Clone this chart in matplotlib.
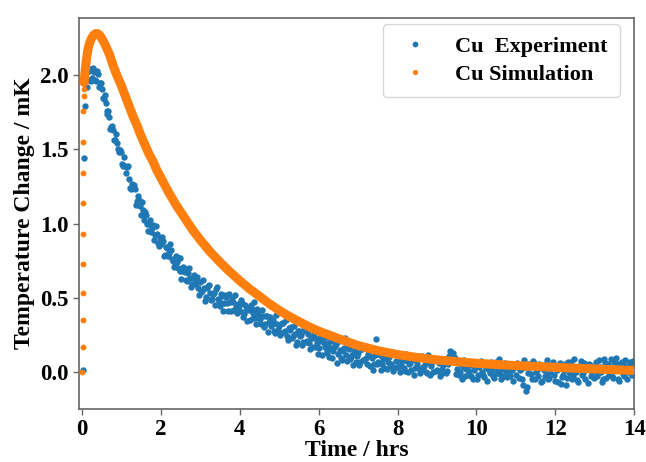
import numpy as np
import matplotlib
matplotlib.use("Agg")
import matplotlib.pyplot as plt

plt.rcParams['font.family'] = ['Liberation Serif', 'DejaVu Serif']
plt.rcParams['font.weight'] = 'bold'

# ---------------- data ----------------
# Experiment: first few samples during the rise
exp_t_early = [0.03, 0.06, 0.09, 0.12]
exp_v_early = [0.01, 1.44, 1.79, 1.92]

# Experiment: samples at t = 0.15, 0.20, ... 14.00 hrs
exp_a_t0, exp_dt = 0.15, 0.05
exp_a_v = [
    # 0.15 - 0.95
    1.97, 2.04, 1.98, 2.02, 1.96, 2.01, 1.95, 1.91, 1.84, 1.81, 1.74, 1.72, 1.65, 1.63, 1.56, 1.54, 1.48,
    # 1.00 - 1.95
    1.48, 1.39, 1.39, 1.38, 1.30, 1.23, 1.24, 1.23, 1.15, 1.16, 1.06, 1.09, 1.08, 1.00, 1.00, 0.94, 0.99, 0.92, 0.93, 0.85,
    # 2.00 - 2.95
    0.86, 0.88, 0.79, 0.835, 0.80, 0.82, 0.745, 0.72, 0.74, 0.765, 0.68, 0.68, 0.70, 0.62, 0.665, 0.63, 0.59, 0.65, 0.605, 0.565,
    # 3.00 - 3.95
    0.605, 0.545, 0.565, 0.505, 0.58, 0.53, 0.49, 0.535, 0.56, 0.49, 0.445, 0.51, 0.465, 0.505, 0.41, 0.47, 0.495, 0.42, 0.44, 0.455,
    # 4.00 - 4.95
    0.41, 0.465, 0.39, 0.415, 0.43, 0.35, 0.425, 0.40, 0.365, 0.425, 0.36, 0.32, 0.375, 0.32, 0.38, 0.335, 0.31, 0.35, 0.265, 0.32,
    # 5.00 - 5.95
    0.31, 0.265, 0.33, 0.275, 0.24, 0.295, 0.30, 0.243, 0.257, 0.20, 0.273, 0.247, 0.20, 0.275, 0.21, 0.195, 0.23, 0.165, 0.23, 0.195,
    # 6.00 - 6.95
    0.16, 0.205, 0.23, 0.165, 0.13, 0.195, 0.16, 0.095, 0.17, 0.185, 0.12, 0.147, 0.083, 0.16, 0.117, 0.183, 0.09, 0.117, 0.133, 0.07,
    # 7.00 - 7.95
    0.128, 0.065, 0.152, 0.079, 0.096, 0.123, 0.04, 0.097, 0.054, 0.221, 0.069, 0.117, 0.055, 0.023, 0.101, 0.069, 0.037, 0.125, 0.023, 0.071,
    # 8.00 - 8.95
    0.03, 0.089, 0.047, 0.106, 0.004, 0.073, 0.052, 0.01, 0.089, 0.028, 0.056, 0.105, 0.014, 0.033, 0.072, -0.009, 0.06, 0.039, -0.002, 0.087,
    # 9.00 - 9.95
    0.01, 0.062, -0.012, 0.045, 0.071, 0.008, 0.11, 0.132, 0.125, 0.095, 0.018, -0.02, 0.054, 0.031, -0.025, 0.06, 0.005, -0.03, 0.045, 0.012,
    # 10.00 - 10.95
    0.04, -0.02, 0.06, 0.0, -0.035, 0.025, 0.05, -0.01, 0.015, -0.04, 0.065, 0.02, -0.015, 0.035, -0.03, 0.005, 0.055, -0.025, 0.01, 0.03,
    # 11.00 - 11.95
    -0.02, 0.045, 0.01, -0.05, 0.08, -0.13, -0.01, 0.03, -0.045, 0.06, 0.0, -0.03, 0.04, -0.06, 0.015, 0.05, -0.02, -0.04, 0.025, 0.07,
    # 12.00 - 12.95
    -0.06, 0.01, 0.035, -0.08, -0.02, 0.05, -0.04, 0.0, 0.065, -0.03, 0.02, -0.055, 0.04, 0.075, -0.01, -0.045, 0.03, 0.055, -0.025, 0.01,
    # 13.00 - 14.00
    0.04, -0.03, 0.08, 0.0, -0.05, 0.06, 0.02, -0.02, 0.09, -0.04, 0.03, 0.05, -0.06, 0.01, 0.07, -0.03, 0.04, 0.0, 0.065, -0.02, 0.05,
]

# Experiment: samples in between, t = 0.175, 0.225, ... 13.975 hrs
exp_b_t0 = 0.175
exp_b_v = [
    # 0.175 - 0.975
    2.03, 1.96, 2.05, 1.97, 2.025, 1.92, 1.95, 1.845, 1.865, 1.755, 1.76, 1.635, 1.66, 1.565, 1.60, 1.50, 1.495,
    # 1.025 - 1.975
    1.40, 1.45, 1.34, 1.385, 1.24, 1.265, 1.26, 1.125, 1.185, 1.115, 1.145, 1.025, 1.055, 0.95, 1.025, 0.97, 0.89, 0.98, 0.87, 0.90,
    # 2.025 - 2.975
    0.91, 0.78, 0.843, 0.778, 0.86, 0.763, 0.708, 0.78, 0.703, 0.768, 0.625, 0.71, 0.675, 0.613, 0.698, 0.575, 0.635, 0.593, 0.64, 0.52,
    # 3.025 - 3.975
    0.54, 0.62, 0.48, 0.563, 0.585, 0.485, 0.528, 0.453, 0.575, 0.478, 0.523, 0.408, 0.52, 0.463, 0.525, 0.408, 0.473, 0.515, 0.398, 0.443,
    # 4.025 - 4.975
    0.488, 0.373, 0.448, 0.343, 0.415, 0.448, 0.363, 0.468, 0.32, 0.393, 0.355, 0.418, 0.303, 0.375, 0.268, 0.373, 0.325, 0.278, 0.383, 0.285,
    # 5.025 - 5.975
    0.248, 0.333, 0.268, 0.353, 0.218, 0.283, 0.227, 0.31, 0.183, 0.277, 0.24, 0.183, 0.288, 0.203, 0.258, 0.153, 0.228, 0.253, 0.168, 0.123,
    # 6.025 - 6.975
    0.228, 0.113, 0.198, 0.233, 0.138, 0.103, 0.208, 0.143, 0.178, 0.063, 0.209, 0.095, 0.142, 0.229, 0.075, 0.152, 0.099, 0.045, 0.162, 0.109,
    # 7.025 - 7.975
    0.046, 0.153, 0.08, 0.167, 0.054, 0.111, 0.148, 0.015, 0.112, 0.05, 0.128, 0.016, 0.084, 0.142, 0.02, 0.098, 0.056, 0.004, 0.122, 0.03,
    # 8.025 - 8.975
    0.109, -0.002, 0.076, 0.025, 0.124, 0.002, 0.061, 0.09, -0.022, 0.077, 0.026, -0.005, 0.104, 0.043, 0.002, 0.111, -0.02, 0.069, 0.088, 0.006,
    # 9.025 - 9.975
    0.075, -0.03, 0.02, 0.09, -0.01, 0.05, 0.14, 0.115, 0.10, -0.015, 0.065, 0.0, -0.045, 0.08, 0.02, -0.02, 0.045, 0.07, -0.05, 0.03,
    # 10.025 - 10.975
    -0.05, 0.03, 0.075, -0.02, 0.045, -0.06, 0.01, 0.07, -0.03, 0.04, -0.01, 0.085, -0.045, 0.02, 0.06, -0.035, 0.0, 0.05, -0.06, 0.035,
    # 11.025 - 11.975
    0.06, -0.04, 0.02, -0.085, 0.035, -0.1, 0.05, -0.015, 0.075, -0.05, 0.01, 0.055, -0.07, 0.025, -0.03, 0.08, -0.05, 0.0, 0.045, -0.02,
    # 12.025 - 12.975
    0.04, -0.07, 0.06, -0.035, 0.015, -0.09, 0.07, -0.01, -0.05, 0.085, 0.0, -0.065, 0.03, -0.02, 0.06, 0.02, -0.075, 0.045, 0.0, -0.04,
    # 13.025 - 13.975
    0.065, -0.01, 0.03, -0.07, 0.085, -0.04, 0.05, 0.005, -0.03, 0.07, 0.095, -0.05, 0.02, 0.06, -0.015, 0.08, -0.045, 0.03, 0.055, 0.075,
]

# Simulation: initial rise samples (nearly vertical column of dots)
sim_rise_t = [0.015, 0.017, 0.019, 0.021, 0.023, 0.026, 0.029, 0.032, 0.036, 0.040, 0.046, 0.052]
sim_rise_v = [0.0, 0.17, 0.35, 0.53, 0.73, 0.93, 1.14, 1.34, 1.55, 1.76, 1.86, 1.91]

# Simulation: dense curve after the rise
sim_t = [0.06, 0.08, 0.10, 0.13, 0.16, 0.20, 0.25, 0.30, 0.35, 0.40, 0.45, 0.50, 0.60, 0.70,
         0.80, 0.90, 1.00, 1.10, 1.20, 1.30, 1.40, 1.50, 1.60, 1.70, 1.80, 1.90, 2.00, 2.20,
         2.40, 2.60, 2.80, 3.00, 3.25, 3.50, 3.75, 4.00, 4.25, 4.50, 4.75, 5.00, 5.25, 5.50,
         5.75, 6.00, 6.50, 7.00, 7.50, 8.00, 8.50, 9.00, 9.50, 10.0, 10.5, 11.0, 11.5, 12.0,
         12.5, 13.0, 13.5, 14.0]
sim_v = [1.95, 2.02, 2.07, 2.13, 2.18, 2.22, 2.25, 2.27, 2.28, 2.28, 2.27, 2.25, 2.20, 2.14,
         2.06, 1.99, 1.93, 1.86, 1.79, 1.72, 1.66, 1.59, 1.53, 1.47, 1.42, 1.36, 1.31, 1.21,
         1.12, 1.04, 0.96, 0.89, 0.81, 0.74, 0.675, 0.615, 0.56, 0.51, 0.46, 0.415, 0.375, 0.34,
         0.305, 0.275, 0.225, 0.178, 0.143, 0.117, 0.097, 0.081, 0.069, 0.058, 0.05, 0.043,
         0.037, 0.031, 0.025, 0.02, 0.015, 0.01]

x_ticks = [0, 2, 4, 6, 8, 10, 12, 14]
y_ticks = [0.0, 0.5, 1.0, 1.5, 2.0]

# ---------------- plot ----------------
exp_a_t = exp_a_t0 + exp_dt * np.arange(len(exp_a_v))
exp_b_t = exp_b_t0 + exp_dt * np.arange(len(exp_b_v))
exp_t_all = np.concatenate([exp_t_early, exp_a_t, exp_b_t])
exp_v_all = np.concatenate([exp_v_early, exp_a_v, exp_b_v])
order = np.argsort(exp_t_all, kind='stable')
exp_t_all, exp_v_all = exp_t_all[order], exp_v_all[order]

blue = '#1f77b4'
orange = '#ff7f0e'

fig = plt.figure(figsize=(6.46, 4.62), dpi=100)
ax = fig.add_axes([0.1218, 0.1147, 0.8601, 0.8463])

ax.plot(exp_t_all, exp_v_all, 'o', color=blue, ms=4.6, mew=0, label='Cu  Experiment', zorder=2)
ax.plot(sim_t, sim_v, '-', color=orange, lw=6.5, solid_capstyle='round', zorder=3)
ax.plot(sim_rise_t, sim_rise_v, 'o', color=orange, ms=4.2, mew=0, label='Cu Simulation', zorder=3)

ax.set_xlim(-0.08, 14.0)
ax.set_ylim(-0.25, 2.385)
ax.set_xticks(x_ticks)
ax.set_yticks(y_ticks)
ax.set_xticklabels([str(v) for v in x_ticks])
ax.set_yticklabels([f'{v:.1f}' for v in y_ticks])

for s in ax.spines.values():
    s.set_color('#666666')
    s.set_linewidth(1.2)
ax.tick_params(colors='#333333', labelsize=16.5, length=4, width=1.0, color='#666666', pad=3)
for lab in ax.get_xticklabels() + ax.get_yticklabels():
    lab.set_fontweight('bold')
    lab.set_color('black')

ax.set_xlabel('Time / hrs', fontsize=17, fontweight='bold', labelpad=0)
ax.set_ylabel('Temperature Change / mK', fontsize=17, fontweight='bold', labelpad=4)

leg = ax.legend(loc='upper right', prop={'weight': 'bold', 'size': 16},
                handlelength=1.8, handletextpad=0.9, borderpad=0.55,
                labelspacing=0.35, markerscale=0.9, frameon=True,
                bbox_to_anchor=(0.978, 0.99), borderaxespad=0.1)
leg.get_frame().set_edgecolor('#cccccc')
leg.get_frame().set_linewidth(1.0)

fig.savefig('out.png', dpi=100)
